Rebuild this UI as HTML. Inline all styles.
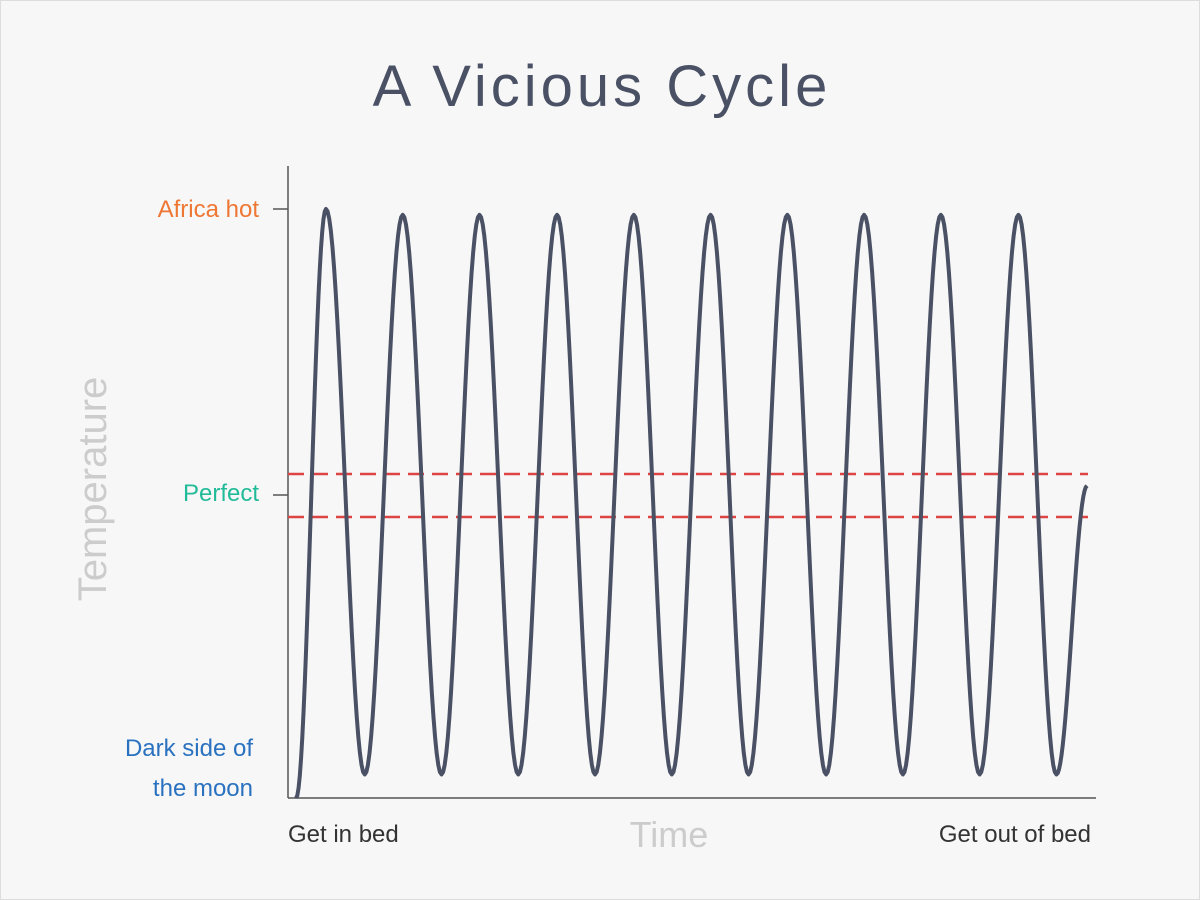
<!DOCTYPE html>
<html><head><meta charset="utf-8">
<style>
html,body{margin:0;padding:0;background:#f7f7f7;}
#wrap{position:relative;width:1200px;height:900px;background:#f7f7f7;border:1px solid #ddd;box-sizing:border-box;overflow:hidden;font-family:"Liberation Sans",sans-serif;}
</style></head>
<body>
<div id="wrap">
<svg id="chart" width="1200" height="900">
  <text x="601" y="105" text-anchor="middle" font-size="58" fill="#4a5165" letter-spacing="4">A Vicious Cycle</text>
  <text transform="translate(105,488) rotate(-90)" text-anchor="middle" font-size="40" fill="#cccccc">Temperature</text>
  <text x="668" y="846" text-anchor="middle" font-size="36" fill="#cccccc">Time</text>
  <text x="287" y="841" font-size="24" fill="#333">Get in bed</text>
  <text x="1090" y="841" text-anchor="end" font-size="24" fill="#333">Get out of bed</text>
  <text x="258" y="216" text-anchor="end" font-size="24" fill="#ee7733">Africa hot</text>
  <text x="258" y="500" text-anchor="end" font-size="24" fill="#22bb99">Perfect</text>
  <text x="252" y="755" text-anchor="end" font-size="24" fill="#2a72c0">Dark side of</text>
  <text x="252" y="795" text-anchor="end" font-size="24" fill="#2a72c0">the moon</text>
  <line x1="287" y1="165" x2="287" y2="797" stroke="#555" stroke-width="1.5"/>
  <line x1="287" y1="797" x2="1095" y2="797" stroke="#555" stroke-width="1.5"/>
  <line x1="272" y1="208" x2="287" y2="208" stroke="#555" stroke-width="1.5"/>
  <line x1="272" y1="494" x2="287" y2="494" stroke="#555" stroke-width="1.5"/>
  <g id="marks"></g>
</svg>
</div>
<script>
// data
const timePoints = [1, 4.7, 9.5, 14.2, 19.0, 23.7, 28.5, 33.3, 38.0, 42.8, 47.5, 52.3, 57.0, 61.8, 66.6, 71.3, 76.1, 80.8, 85.6, 90.4, 95.1, 98.9];
const tempValues = [0, 100, 4, 99, 4, 99, 4, 99, 4, 99, 4, 99, 4, 99, 4, 99, 4, 99, 4, 99, 4, 53];
const comfortBand = [47.7, 55.0];

const svgNS = "http://www.w3.org/2000/svg";
const xScale = t => 287 + t * 8.08;
const yScale = v => 797 - v * 5.89;
const g = document.getElementById('marks');

comfortBand.forEach((v, i) => {
  const l = document.createElementNS(svgNS, 'line');
  l.setAttribute('x1', 287); l.setAttribute('x2', 1087);
  l.setAttribute('y1', yScale(v)); l.setAttribute('y2', yScale(v));
  l.setAttribute('stroke', '#dd4444'); l.setAttribute('stroke-width', 2.5);
  l.setAttribute('stroke-dasharray', '16 8');
  
  
  g.appendChild(l);
});

let d = '';
for (let i = 0; i < timePoints.length - 1; i++) {
  const x0 = xScale(timePoints[i]), x1 = xScale(timePoints[i + 1]);
  const y0 = yScale(tempValues[i]), y1 = yScale(tempValues[i + 1]);
  const steps = 24;
  for (let s = (i === 0 ? 0 : 1); s <= steps; s++) {
    const f = s / steps;
    const x = x0 + (x1 - x0) * f;
    const e = (1 - Math.cos(Math.PI * f)) / 2;
    const y = y0 + (y1 - y0) * e;
    d += (d ? 'L' : 'M') + x.toFixed(2) + ',' + y.toFixed(2);
  }
}
const p = document.createElementNS(svgNS, 'path');
p.setAttribute('d', d);
p.setAttribute('fill', 'none');
p.setAttribute('stroke', '#4a5165');
p.setAttribute('stroke-width', 4);
p.setAttribute('stroke-linejoin', 'round');


g.appendChild(p);
</script>
</body></html>
